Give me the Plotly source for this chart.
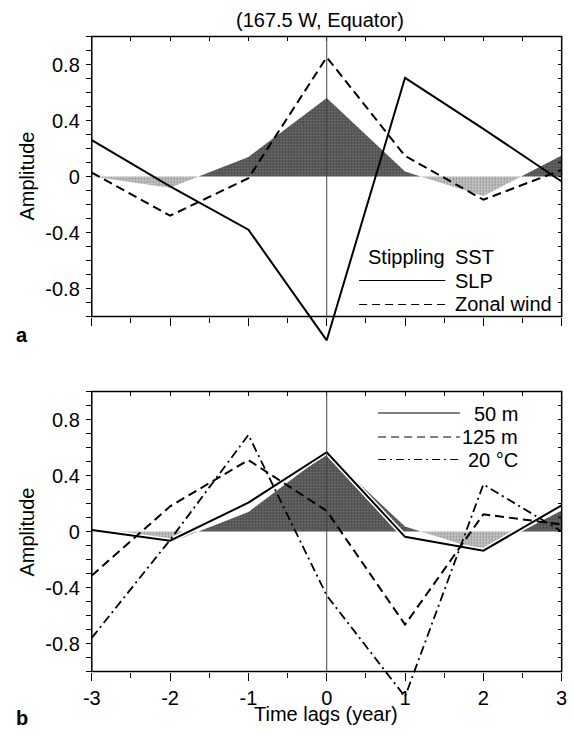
import numpy as np
import plotly.graph_objects as go

# ---------------- data ----------------
lags = [-3, -2, -1, 0, 1, 2, 3]
sst = [0.0, -0.08, 0.14, 0.56, 0.035, -0.14, 0.15]          # stippling
slp = [0.26, -0.07, -0.38, -1.17, 0.705, 0.34, -0.035]      # solid (panel a)
zonal_wind = [0.028, -0.28, -0.012, 0.852, 0.147, -0.166, 0.047]  # dashed (panel a)
t50m = [0.01, -0.066, 0.206, 0.566, -0.038, -0.137, 0.187]   # solid (panel b)
t125m = [-0.315, 0.18, 0.51, 0.147, -0.665, 0.123, 0.05]     # dashed (panel b)
t20c = [-0.76, -0.06, 0.69, -0.457, -1.18, 0.336, 0.0]       # dash-dot (panel b)

x_tickvals = [-3, -2, -1, 0, 1, 2, 3]
x_ticktext = ["-3", "-2", "-1", "0", "1", "2", "3"]
y_tickvals = [-0.8, -0.4, 0, 0.4, 0.8]
y_ticktext = ["-0.8", "-0.4", "0", "0.4", "0.8"]

# ---------------- geometry helpers ----------------
W, H = 574, 734
FONT = "Liberation Sans, Arial, Helvetica, sans-serif"


def px_x(p):
    return p / W


def px_y(p):
    return 1 - p / H


YR = [-1.22, 1.0]
xdom = [px_x(85), px_x(567.5)]
unit = 140.0
a_top = 36.5
b_top = 391.5
ya_dom = [px_y(a_top + (1 - YR[0]) * unit), px_y(a_top)]
yb_dom = [px_y(b_top + (1 - YR[0]) * unit), px_y(b_top)]


def ypaper(v, dom):
    return dom[0] + (v - YR[0]) / (YR[1] - YR[0]) * (dom[1] - dom[0])


def split_sign(x, y):
    """Insert zero crossings so positive / negative parts can be filled."""
    xs, ys = [x[0]], [y[0]]
    for i in range(1, len(x)):
        y0, y1 = y[i - 1], y[i]
        if y0 * y1 < 0:
            xc = x[i - 1] + (x[i] - x[i - 1]) * (0 - y0) / (y1 - y0)
            xs.append(xc)
            ys.append(0.0)
        xs.append(x[i])
        ys.append(y[i])
    ys = np.array(ys)
    return np.array(xs), np.maximum(ys, 0), np.minimum(ys, 0)


fig = go.Figure()

sx, spos, sneg = split_sign(lags, sst)

DASH = "9px,5px"
DASHDOT = "9px,4px,2px,4px"

for xa, ya in (("x", "y"), ("x2", "y2")):
    fig.add_trace(go.Scatter(
        x=sx, y=sneg, xaxis=xa, yaxis=ya, mode="lines", fill="tozeroy",
        line=dict(width=0, color="rgba(0,0,0,0)"),
        fillcolor="#bbbbbb",
        fillpattern=dict(shape=".", fgcolor="#505050", bgcolor="#d2d2d2",
                         size=3, solidity=0.45),
        hoverinfo="skip"))
    fig.add_trace(go.Scatter(
        x=sx, y=spos, xaxis=xa, yaxis=ya, mode="lines", fill="tozeroy",
        line=dict(width=0, color="rgba(0,0,0,0)"),
        fillcolor="#4a4a4a",
        fillpattern=dict(shape=".", fgcolor="#0a0a0a", bgcolor="#7a7a7a",
                         size=3, solidity=0.6),
        hoverinfo="skip"))

# panel a lines
fig.add_trace(go.Scatter(x=lags, y=slp, xaxis="x", yaxis="y", mode="lines",
                         line=dict(color="black", width=2)))
fig.add_trace(go.Scatter(x=lags, y=zonal_wind, xaxis="x", yaxis="y", mode="lines",
                         line=dict(color="black", width=2, dash=DASH)))
# panel b lines
fig.add_trace(go.Scatter(x=lags, y=t50m, xaxis="x2", yaxis="y2", mode="lines",
                         line=dict(color="white", width=5), hoverinfo="skip"))
fig.add_trace(go.Scatter(x=lags, y=t125m, xaxis="x2", yaxis="y2", mode="lines",
                         line=dict(color="black", width=2, dash=DASH)))
fig.add_trace(go.Scatter(x=lags, y=t20c, xaxis="x2", yaxis="y2", mode="lines",
                         line=dict(color="black", width=1.8, dash=DASHDOT)))
fig.add_trace(go.Scatter(x=lags, y=t50m, xaxis="x2", yaxis="y2", mode="lines",
                         line=dict(color="black", width=2)))

# dummy traces so the overlay axes are drawn
for xa, ya in (("x3", "y"), ("x", "y3"), ("x4", "y2"), ("x2", "y4")):
    fig.add_trace(go.Scatter(x=[], y=[], xaxis=xa, yaxis=ya, mode="lines",
                             hoverinfo="skip"))

tickfont = dict(family=FONT, size=20, color="black")
minor_y = [round(v, 1) for v in np.arange(-1.0, 1.01, 0.1) if round(v, 1) not in y_tickvals]
half_x = [-2.5, -1.5, -0.5, 0.5, 1.5, 2.5]
all_x = [-3, -2.5, -2, -1.5, -1, -0.5, 0, 0.5, 1, 1.5, 2, 2.5, 3]
all_y = [round(v, 1) for v in np.arange(-1.0, 1.01, 0.1)]


def xaxis_main(pos, labels):
    return dict(domain=xdom, range=[-3, 3], anchor="free", position=pos,
                tickmode="array", tickvals=x_tickvals, ticktext=x_ticktext,
                ticks="outside", ticklen=8, tickwidth=1.3, tickcolor="black",
                showticklabels=labels, tickfont=tickfont, ticklabelstandoff=0,
                minor=dict(tickmode="array", tickvals=half_x, ticks="outside",
                           ticklen=5, tickwidth=1.2, tickcolor="black"),
                showline=False, showgrid=False, zeroline=False, fixedrange=True)


def yaxis_main(dom):
    return dict(domain=dom, range=YR, anchor="x", tickmode="array",
                tickvals=y_tickvals, ticktext=y_ticktext,
                ticks="outside", ticklen=5, tickwidth=1.2, tickcolor="black",
                tickfont=tickfont, ticklabelstandoff=2,
                minor=dict(tickmode="array", tickvals=minor_y, ticks="outside",
                           ticklen=5, tickwidth=1.2, tickcolor="black"),
                showline=False, showgrid=False, zeroline=False, fixedrange=True)


xa = xaxis_main(ypaper(-1, ya_dom), False)
ya = yaxis_main(ya_dom)
xb = xaxis_main(ypaper(-1, yb_dom), True)
yb = yaxis_main(yb_dom)
yb["anchor"] = "x2"


def overlay_x(base, anchor):
    return dict(overlaying=base, side="top", anchor=anchor, range=[-3, 3],
                tickmode="array", tickvals=all_x, ticks="inside", ticklen=4,
                tickwidth=1.2, tickcolor="black", showticklabels=False,
                showline=False, showgrid=False, zeroline=False)


def overlay_y(base, anchor):
    return dict(overlaying=base, side="right", anchor=anchor, range=YR,
                tickmode="array", tickvals=all_y, ticks="inside", ticklen=4,
                tickwidth=1.2, tickcolor="black", showticklabels=False,
                showline=False, showgrid=False, zeroline=False)


fig.update_layout(
    width=W, height=H, margin=dict(l=0, r=0, t=0, b=0),
    paper_bgcolor="white", plot_bgcolor="rgba(0,0,0,0)", showlegend=False,
    font=dict(family=FONT, size=20, color="black"),
    xaxis=xa, yaxis=ya, xaxis2=xb, yaxis2=yb,
    xaxis3=overlay_x("x", "y"), xaxis4=overlay_x("x2", "y2"),
    yaxis3=overlay_y("y", "x"), yaxis4=overlay_y("y2", "x2"),
)

shapes = []
# frames
for dom in (ya_dom, yb_dom):
    shapes.append(dict(type="rect", xref="paper", yref="paper",
                       x0=xdom[0], x1=xdom[1], y0=ypaper(-1, dom), y1=ypaper(1, dom),
                       line=dict(color="black", width=1.5), layer="above"))
# x=0 vertical lines
for xr, yr in (("x", "y"), ("x2", "y2")):
    shapes.append(dict(type="line", xref=xr, yref=yr, x0=0, x1=0, y0=-1, y1=1,
                       line=dict(color="#444444", width=1), layer="above"))

# legend samples (panel a)
shapes.append(dict(type="line", xref="paper", yref="paper",
                   x0=px_x(359.5), x1=px_x(448), y0=px_y(280.5), y1=px_y(280.5),
                   line=dict(color="black", width=1.2)))
shapes.append(dict(type="line", xref="paper", yref="paper",
                   x0=px_x(359.5), x1=px_x(448), y0=px_y(304.5), y1=px_y(304.5),
                   line=dict(color="black", width=1.2, dash="8px,5px")))
# legend samples (panel b)
shapes.append(dict(type="line", xref="paper", yref="paper",
                   x0=px_x(379), x1=px_x(463), y0=px_y(413), y1=px_y(413),
                   line=dict(color="black", width=1.2)))
shapes.append(dict(type="line", xref="paper", yref="paper",
                   x0=px_x(379), x1=px_x(463), y0=px_y(437), y1=px_y(437),
                   line=dict(color="black", width=1.2, dash="8px,5px")))
shapes.append(dict(type="line", xref="paper", yref="paper",
                   x0=px_x(379), x1=px_x(463), y0=px_y(459.5), y1=px_y(459.5),
                   line=dict(color="black", width=1.2, dash="8px,4px,2px,4px")))

fig.update_layout(shapes=shapes)

ann = []


def text(s, x, y, xanchor="center", size=20, bold=False, angle=0):
    if bold:
        s = "<b>" + s + "</b>"
    ann.append(dict(text=s, x=px_x(x), y=px_y(y), xref="paper", yref="paper",
                    xanchor=xanchor, yanchor="middle", showarrow=False,
                    textangle=angle, font=dict(family=FONT, size=size, color="black")))


text("(167.5 W, Equator)", 319, 20)
text("Amplitude", 18, 176, angle=-90)
text("Amplitude", 18, 532, angle=-90)
text("Time lags (year)", 326, 714)
text("a", 13, 335, bold=True)
text("b", 13, 718, bold=True)
text("Stippling", 367, 257, xanchor="left")
text("SST", 456, 257, xanchor="left")
text("SLP", 456, 281, xanchor="left")
text("Zonal wind", 456, 304, xanchor="left")
text("50 m", 525, 414, xanchor="right")
text("125 m", 525, 437, xanchor="right")
text("20 °C", 525, 460, xanchor="right")

fig.update_layout(annotations=ann)

fig.write_html("out.html")
